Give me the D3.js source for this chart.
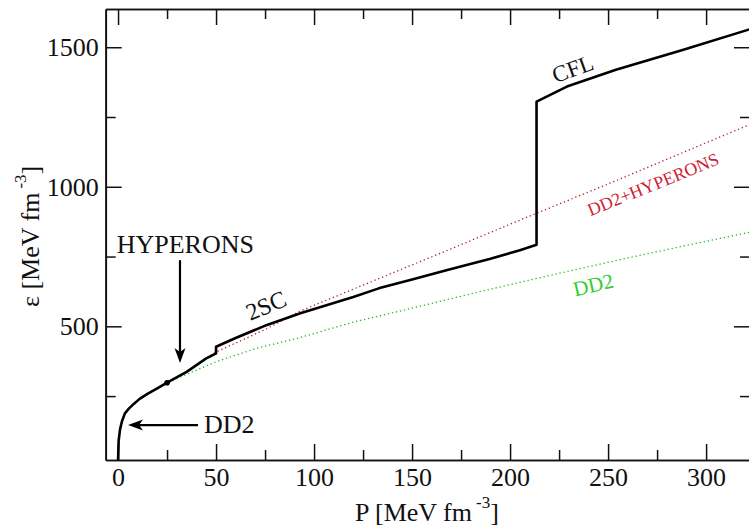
<!DOCTYPE html>
<html>
<head>
<meta charset="utf-8">
<script src="https://cdn.jsdelivr.net/npm/d3@7"></script>
<style>
  body { margin: 0; background: #fff; }
  svg { display: block; }
  text { font-family: "Liberation Serif", "Times New Roman", serif; }
</style>
</head>
<body>
<svg id="chart" width="749" height="528"></svg>
<script>
// tick values
var xMajor = [0, 50, 100, 150, 200, 250, 300];
var xMinor = [25, 75, 125, 175, 225, 275];
var yMajor = [500, 1000, 1500];
var yMinor = [250, 750, 1250];

// hybrid EoS (2SC / CFL), P and epsilon in MeV fm^-3
var hybridP   = [0, 0.3, 1, 2, 3.5, 5.5, 8, 11, 15, 20, 25, 35, 45, 50, 50, 60, 76, 93, 120, 133, 150, 168, 190, 205, 213.5, 213.5, 229, 254, 288, 323];
var hybridEps = [20, 90, 130, 160, 188, 205, 222, 240, 258, 278, 298, 337, 385, 403, 427, 458, 505, 547, 605, 636, 668, 702, 742, 773, 792, 1305, 1359, 1419, 1490, 1566];

// DD2 + hyperons
var hypP   = [0, 0.3, 1, 2, 3.5, 5.5, 8, 11, 15, 20, 25, 35, 45, 50, 60, 76, 93, 130, 170, 210, 250, 290, 323];
var hypEps = [20, 90, 130, 160, 188, 205, 222, 240, 258, 278, 298, 337, 385, 408, 440, 492, 555, 662, 778, 895, 1010, 1128, 1225];

// DD2 nucleonic
var dd2P   = [0, 0.3, 1, 2, 3.5, 5.5, 8, 11, 15, 20, 25, 35, 50, 70, 93, 120, 150, 185, 225, 260, 290, 323];
var dd2Eps = [20, 90, 130, 160, 188, 205, 222, 240, 258, 278, 298, 328, 373, 420, 460, 515, 565, 625, 690, 745, 790, 838];

var labels = ["CFL", "2SC", "DD2+HYPERONS", "DD2", "HYPERONS", "DD2"];

var svg = d3.select("#chart");
var pLeft = 105.7, pTop = 9, pRight = 750, pBottom = 460;

var x = d3.scaleLinear().domain([-6.3, 322.4]).range([pLeft, pRight]);
var y = d3.scaleLinear().domain([21, 1637]).range([pBottom, pTop]);

svg.append("defs").append("clipPath").attr("id", "clip")
  .append("rect")
  .attr("x", pLeft).attr("y", pTop)
  .attr("width", pRight - pLeft).attr("height", pBottom - pTop);

function styleAxis(g, showText) {
  g.select(".domain").attr("stroke", "#111").attr("stroke-width", 1.7);
  g.selectAll(".tick line").attr("stroke", "#111").attr("stroke-width", 1.5);
  g.selectAll(".tick text")
    .attr("fill", "#111")
    .style("font-family", "'Liberation Serif', serif")
    .style("font-size", "26px");
  if (!showText) g.selectAll(".tick text").remove();
}

var fmt = d3.format("d");

// bottom
svg.append("g").attr("transform", "translate(0," + pBottom + ")")
  .call(d3.axisBottom(x).tickValues(xMajor).tickFormat(fmt).tickSizeInner(-16).tickSizeOuter(0).tickPadding(8))
  .call(styleAxis, true);
svg.append("g").attr("transform", "translate(0," + pBottom + ")")
  .call(d3.axisBottom(x).tickValues(xMinor).tickSizeInner(-10).tickSizeOuter(0).tickFormat(""))
  .call(styleAxis, false);
// top
svg.append("g").attr("transform", "translate(0," + pTop + ")")
  .call(d3.axisTop(x).tickValues(xMajor).tickSizeInner(-16).tickSizeOuter(0).tickFormat(""))
  .call(styleAxis, false);
svg.append("g").attr("transform", "translate(0," + pTop + ")")
  .call(d3.axisTop(x).tickValues(xMinor).tickSizeInner(-10).tickSizeOuter(0).tickFormat(""))
  .call(styleAxis, false);
// left
svg.append("g").attr("transform", "translate(" + pLeft + ",0)")
  .call(d3.axisLeft(y).tickValues(yMajor).tickFormat(fmt).tickSizeInner(-16).tickSizeOuter(0).tickPadding(7))
  .call(styleAxis, true);
svg.append("g").attr("transform", "translate(" + pLeft + ",0)")
  .call(d3.axisLeft(y).tickValues(yMinor).tickSizeInner(-10).tickSizeOuter(0).tickFormat(""))
  .call(styleAxis, false);
// right
svg.append("g").attr("transform", "translate(" + pRight + ",0)")
  .call(d3.axisRight(y).tickValues(yMajor).tickSizeInner(-16).tickSizeOuter(0).tickFormat(""))
  .call(styleAxis, false);
svg.append("g").attr("transform", "translate(" + pRight + ",0)")
  .call(d3.axisRight(y).tickValues(yMinor).tickSizeInner(-10).tickSizeOuter(0).tickFormat(""))
  .call(styleAxis, false);

var line = d3.line()
  .x(function(d) { return x(d[0]); })
  .y(function(d) { return y(d[1]); });

var plot = svg.append("g").attr("clip-path", "url(#clip)");

plot.append("path")
  .datum(d3.zip(dd2P, dd2Eps))
  .attr("fill", "none")
  .attr("stroke", "#22bb22")
  .attr("stroke-width", 1.3)
  .attr("stroke-dasharray", "1.3,2.8")
  .attr("d", line);

plot.append("path")
  .datum(d3.zip(hypP, hypEps))
  .attr("fill", "none")
  .attr("stroke", "#b0202c")
  .attr("stroke-width", 1.3)
  .attr("stroke-dasharray", "1.3,2.8")
  .attr("d", line);

plot.append("path")
  .datum(d3.zip(hybridP, hybridEps))
  .attr("fill", "none")
  .attr("stroke", "#000")
  .attr("stroke-width", 2.6)
  .attr("stroke-linejoin", "round")
  .attr("d", line);

// hyperon onset dot
plot.append("circle")
  .attr("cx", x(25)).attr("cy", y(298)).attr("r", 2.8)
  .attr("fill", "#000");

// rotated curve labels
function curveLabel(txt, p, e, angle, size, color) {
  svg.append("text")
    .attr("transform", "translate(" + x(p) + "," + y(e) + ") rotate(" + angle + ")")
    .attr("text-anchor", "middle")
    .attr("dominant-baseline", "central")
    .attr("fill", color)
    .style("font-size", size + "px")
    .text(txt);
}
curveLabel(labels[0], 232, 1422, -20, 23, "#111");
curveLabel(labels[1], 75.5, 574, -23, 24, "#111");
curveLabel(labels[2], 273, 1008, -22, 18, "#cc2233");
curveLabel(labels[3], 242.5, 648, -13, 21, "#33cc33");

// arrow annotations
svg.append("text")
  .attr("x", x(-0.7)).attr("y", y(762))
  .attr("fill", "#111")
  .style("font-size", "26px")
  .text(labels[4]);
svg.append("text")
  .attr("x", x(43.8)).attr("y", y(118))
  .attr("fill", "#111")
  .style("font-size", "26px")
  .text(labels[5]);

function arrow(x1, y1, x2, y2) {
  var ang = Math.atan2(y2 - y1, x2 - x1);
  var len = 15, half = 5.5, notch = 11;
  var ux = Math.cos(ang), uy = Math.sin(ang);
  var px = -uy, py = ux;
  svg.append("line")
    .attr("x1", x1).attr("y1", y1)
    .attr("x2", x2 - ux * notch).attr("y2", y2 - uy * notch)
    .attr("stroke", "#000").attr("stroke-width", 2.2);
  var pts = [
    [x2, y2],
    [x2 - ux * len + px * half, y2 - uy * len + py * half],
    [x2 - ux * notch, y2 - uy * notch],
    [x2 - ux * len - px * half, y2 - uy * len - py * half]
  ];
  svg.append("path")
    .attr("d", "M" + pts.map(function(p) { return p.join(","); }).join("L") + "Z")
    .attr("fill", "#000");
}
arrow(x(31.6), y(737), x(31.6), y(369));
arrow(x(40.8), y(146), x(5.1), y(146));

// axis titles
var xt = svg.append("text")
  .attr("x", 355).attr("y", 521)
  .attr("fill", "#111")
  .style("font-size", "26px");
xt.append("tspan").text("P [MeV fm");
xt.append("tspan").attr("dx", 4).attr("dy", -13).style("font-size", "17px").text("-3");
xt.append("tspan").attr("dy", 13).text("]");

var yt = svg.append("text")
  .attr("transform", "translate(39,307) rotate(-90)")
  .attr("fill", "#111")
  .style("font-size", "26px");
yt.append("tspan").text("\u03b5 [MeV fm");
yt.append("tspan").attr("dx", 4).attr("dy", -13).style("font-size", "17px").text("-3");
yt.append("tspan").attr("dy", 13).text("]");
</script>
</body>
</html>
